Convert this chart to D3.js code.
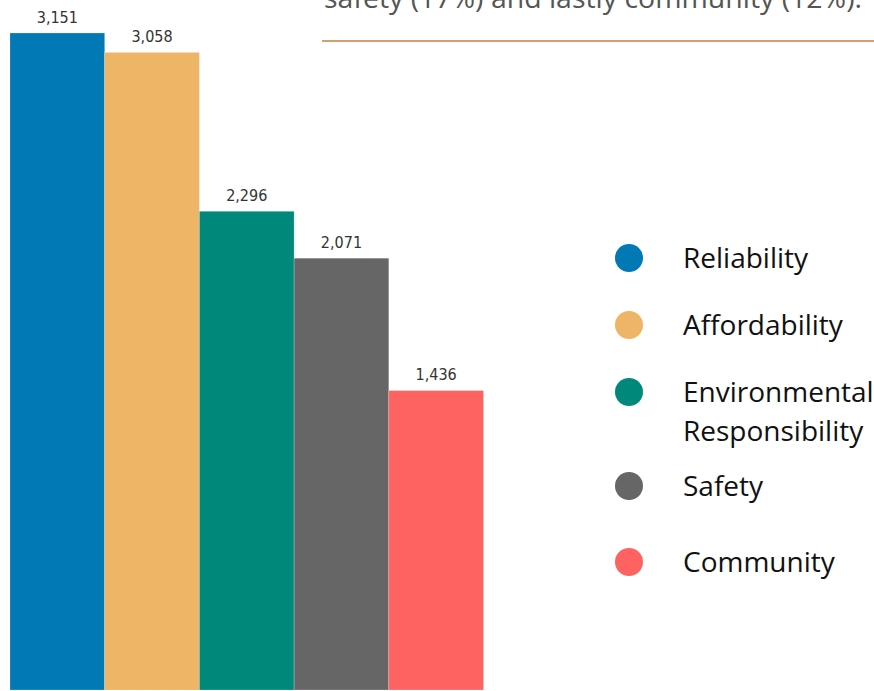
<!DOCTYPE html>
<html>
<head>
<meta charset="utf-8">
<script src="https://cdn.jsdelivr.net/npm/d3@7"></script>
<style>
  html, body { margin: 0; padding: 0; background: #fff; }
  svg { display: block; }
</style>
</head>
<body>
<svg id="chart" width="874" height="691"></svg>
<script>
// Priority counts by category
const categories = ["Reliability", "Affordability", "Environmental Responsibility", "Safety", "Community"];
const values = [3151, 3058, 2296, 2071, 1436];
const colors = ["#0079B5", "#EEB566", "#00897B", "#666666", "#FF6361"];
const legendLines = [["Reliability"], ["Affordability"], ["Environmental", "Responsibility"], ["Safety"], ["Community"]];
const captionText = "safety (17%) and lastly community (12%).";

const svg = d3.select("#chart");

// Caption text trailing in from above, with its rule
svg.append("text")
  .attr("x", 324).attr("y", 8)
  .attr("font-family", "'Open Sans', sans-serif")
  .attr("font-size", 28)
  .attr("textLength", 538)
  .attr("lengthAdjust", "spacingAndGlyphs")
  .attr("fill", "#555555")
  .text(captionText);

svg.append("line")
  .attr("x1", 322).attr("x2", 874)
  .attr("y1", 41).attr("y2", 41)
  .attr("stroke", "#D4A06E").attr("stroke-width", 2);

// Scales
const x = d3.scaleBand().domain(categories).range([10, 483.5]).padding(0);
const y = d3.scaleLinear().domain([0, d3.max(values)]).range([690, 33]);

const data = categories.map((c, i) => ({ c, v: values[i], color: colors[i] }));

svg.append("g").selectAll("rect")
  .data(data).join("rect")
  .attr("x", d => x(d.c))
  .attr("y", d => y(d.v))
  .attr("width", x.bandwidth())
  .attr("height", d => y(0) - y(d.v))
  .attr("fill", d => d.color)
  .attr("stroke", "#ffffff").attr("stroke-opacity", 0.35).attr("stroke-width", 0.6);

const fmt = d3.format(",");
svg.append("g").selectAll("text")
  .data(data).join("text")
  .attr("x", d => x(d.c) + x.bandwidth() / 2)
  .attr("y", d => y(d.v) - 10.5)
  .attr("text-anchor", "middle")
  .attr("font-family", "'DejaVu Sans Condensed', 'DejaVu Sans', sans-serif")
  .attr("font-size", 16)
  .attr("fill", "#333333")
  .text(d => fmt(d.v));

// Legend
const legendY = [258, 325, 392, 486, 562];
const lg = svg.append("g");
data.forEach((d, i) => {
  lg.append("circle")
    .attr("cx", 629).attr("cy", legendY[i]).attr("r", 14)
    .attr("fill", d.color);
  const t = lg.append("text")
    .attr("x", 683).attr("y", legendY[i] + 10)
    .attr("font-family", "'Open Sans', sans-serif")
    .attr("font-size", 28)
    .attr("fill", "#111111");
  legendLines[i].forEach((line, j) => {
    t.append("tspan").attr("x", 683).attr("dy", j === 0 ? 0 : 39).text(line);
  });
});
</script>
</body>
</html>
